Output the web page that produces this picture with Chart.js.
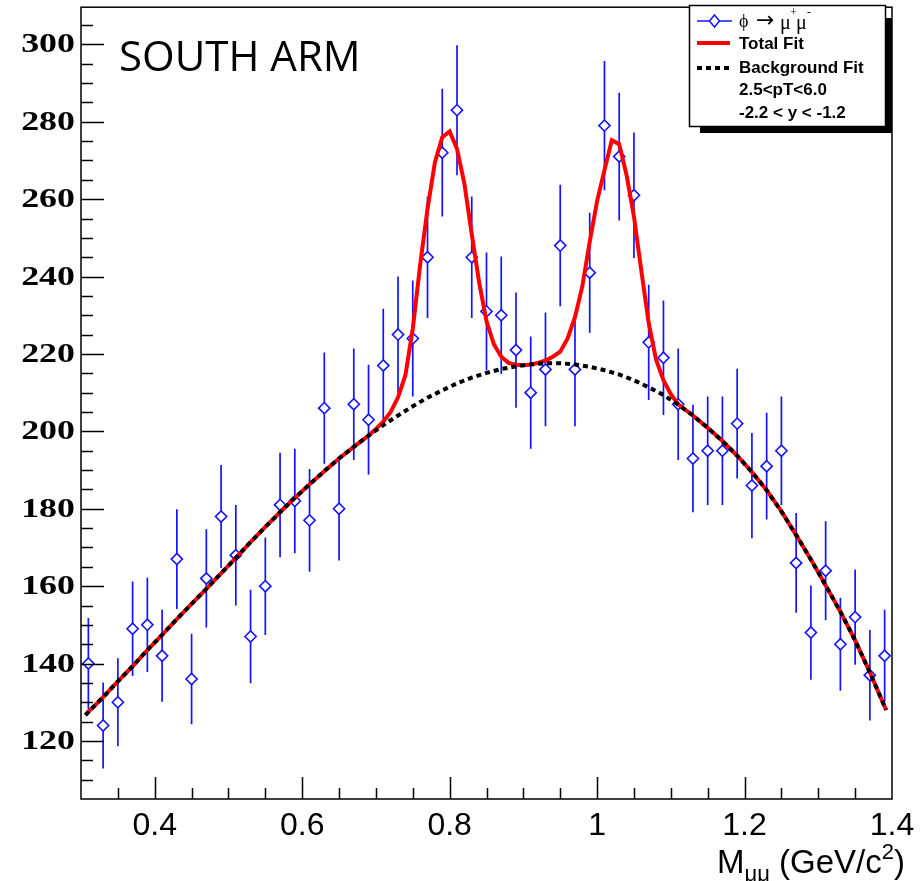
<!DOCTYPE html>
<html>
<head>
<meta charset="utf-8">
<script src="https://cdn.jsdelivr.net/npm/chart.js@4.4.1/dist/chart.umd.min.js"></script>
<style>
  html, body { margin: 0; padding: 0; background: #fff; }
  canvas { display: block; }
</style>
</head>
<body>
<canvas id="massChart" width="921" height="881"></canvas>
<script>
// bin centres (GeV/c^2)
const mass = [0.31,0.33,0.35,0.37,0.39,0.41,0.43,0.45,0.47,0.49,
  0.51,0.53,0.55,0.57,0.59,0.61,0.63,0.65,0.67,0.69,
  0.71,0.73,0.75,0.77,0.79,0.81,0.83,0.85,0.87,0.89,
  0.91,0.93,0.95,0.97,0.99,1.01,1.03,1.05,1.07,1.09,
  1.11,1.13,1.15,1.17,1.19,1.21,1.23,1.25,1.27,1.29,
  1.31,1.33,1.35,1.37,1.39];
const counts = [140,124,130,149,150,142,167,136,162,178,
  168,147,160,181,182,177,206,180,207,203,
  217,225,224,245,272,283,245,231,230,221,
  210,216,248,216,241,279,271,261,223,219,
  207,193,195,195,202,186,191,195,166,148,
  164,145,152,137,142];
const countErr = [11.8,11.1,11.4,12.2,12.2,11.9,12.9,11.7,12.7,13.3,
  13.0,12.1,12.6,13.5,13.5,13.3,14.4,13.4,14.4,14.2,
  14.7,15.0,15.0,15.7,16.5,16.8,15.7,15.2,15.2,14.9,
  14.5,14.7,15.7,14.7,15.5,16.7,16.5,16.2,14.9,14.8,
  14.4,13.9,14.0,14.0,14.2,13.6,13.8,14.0,12.9,12.2,
  12.8,12.0,12.3,11.7,11.9];

// background fit
const bgMass = [0.306, ...mass, 1.392];
const bgFit = [126.7,
  127.5,131.3,135.4,139.3,143.5,147.4,151.5,155.4,159.3,163.3,
  167.3,171.4,175.3,179.1,182.8,186.3,189.7,193.0,196.0,198.9,
  201.6,204.1,206.5,208.7,210.6,212.4,213.9,215.1,216.1,216.8,
  217.3,217.6,217.6,217.3,216.7,215.8,214.7,213.2,211.4,209.4,
  206.9,204.1,200.9,197.5,193.7,189.5,184.8,179.3,173.2,166.9,
  160.2,153.4,146.0,137.7,128.9,
  128.0];

// total fit
const totMass = [0.306,0.31,0.33,0.35,0.37,0.39,0.41,0.43,0.45,0.47,0.49,
  0.51,0.53,0.55,0.57,0.59,0.61,0.63,0.65,0.67,0.69,
  0.70,0.71,0.72,0.73,0.74,0.75,0.76,0.77,0.78,0.79,
  0.80,0.81,0.82,0.83,0.84,0.85,0.86,0.87,0.88,0.89,
  0.90,0.91,0.92,0.93,0.94,0.95,0.96,0.97,0.98,0.99,
  1.00,1.01,1.02,1.03,1.04,1.05,1.06,1.07,1.08,1.09,
  1.10,1.11,1.13,1.15,1.17,1.19,1.21,1.23,1.25,1.27,
  1.29,1.31,1.33,1.35,1.37,1.39,1.392];
const totFit = [126.7,127.5,131.3,135.4,139.3,143.5,147.4,151.5,155.4,159.3,163.3,
  167.3,171.4,175.3,179.1,182.8,186.3,189.7,193.0,196.0,198.9,
  200.6,202.5,205.0,208.8,214.5,226.5,243.0,257.5,269.5,276.0,
  277.5,273.0,264.0,251.0,238.5,228.5,222.5,219.3,217.7,217.2,
  217.1,217.3,217.7,218.3,219.3,220.6,224.0,229.5,237.5,249.0,
  259.5,267.5,275.2,274.2,266.2,255.5,241.5,228.0,218.5,213.2,
  209.6,207.0,204.1,200.9,197.5,193.7,189.5,184.8,179.3,173.2,
  166.9,160.2,153.4,146.0,137.7,128.9,128.0];

const xTicks = [0.4, 0.6, 0.8, 1.0, 1.2, 1.4];
const yTicks = [120, 140, 160, 180, 200, 220, 240, 260, 280, 300];

const BLUE = 'rgb(20,20,255)';
const RED = '#ff0000';

const pts = (xs, ys) => xs.map((v, i) => ({ x: v, y: ys[i] }));

// error bars, inward ROOT-style ticks, frame, labels and the legend box
const rootStyle = {
  id: 'rootStyle',
  beforeDatasetsDraw(chart) {
    const { ctx, chartArea: a, scales: { x, y } } = chart;
    ctx.save();
    ctx.beginPath();
    ctx.rect(a.left, a.top, a.width, a.height);
    ctx.clip();
    ctx.strokeStyle = BLUE;
    ctx.lineWidth = 1.7;
    mass.forEach((m, i) => {
      const px = x.getPixelForValue(m);
      ctx.beginPath();
      ctx.moveTo(px, y.getPixelForValue(counts[i] - countErr[i]));
      ctx.lineTo(px, y.getPixelForValue(counts[i] + countErr[i]));
      ctx.stroke();
    });
    ctx.restore();
  },
  afterDraw(chart) {
    const { ctx, chartArea: a, scales: { x, y } } = chart;
    ctx.save();
    ctx.strokeStyle = '#000';
    ctx.lineWidth = 1.5;

    // ticks pointing into the frame
    ctx.beginPath();
    for (let v = 110; v <= 305; v += 5) {
      const py = Math.round(y.getPixelForValue(v)) + 0.5;
      const len = v % 20 === 0 ? 23 : 12;
      ctx.moveTo(a.left, py);
      ctx.lineTo(a.left + len, py);
    }
    for (let k = 7; k <= 27; k++) {
      const px = Math.round(x.getPixelForValue(k * 0.05)) + 0.5;
      const len = k % 4 === 0 ? 22 : 11;
      ctx.moveTo(px, a.bottom);
      ctx.lineTo(px, a.bottom - len);
    }
    ctx.stroke();
    ctx.strokeRect(a.left, a.top, a.width, a.height);

    // y labels: wide bold serif
    ctx.fillStyle = '#000';
    ctx.font = "bold 27px 'Liberation Serif'";
    ctx.textAlign = 'right';
    ctx.textBaseline = 'middle';
    yTicks.forEach(v => {
      ctx.save();
      ctx.translate(75, y.getPixelForValue(v) + 1);
      ctx.scale(1.33, 1);
      ctx.fillText(String(v), 0, 0);
      ctx.restore();
    });
    ctx.textAlign = 'left';

    // arm label
    ctx.font = "42px 'Open Sans'";
    ctx.textBaseline = 'alphabetic';
    ctx.fillText('SOUTH ARM', 119, 71);

    // axis title: M_{μμ} (GeV/c^{2})
    const big = "33px 'Liberation Sans'";
    const small = "22px 'Liberation Sans'";
    const parts = [
      ['M', big, 0], ['μμ', small, 8], [' (GeV/c', big, 0], ['2', small, -14], [')', big, 0]
    ];
    let w = 0;
    parts.forEach(p => { ctx.font = p[1]; w += ctx.measureText(p[0]).width; });
    let tx = 905 - w;
    parts.forEach(p => {
      ctx.font = p[1];
      ctx.fillText(p[0], tx, 873 + p[2]);
      tx += ctx.measureText(p[0]).width;
    });

    // legend box with shadow
    ctx.fillStyle = '#000';
    ctx.fillRect(700, 18, 192, 115);
    ctx.fillStyle = '#fff';
    ctx.fillRect(689, 5, 197, 122);
    ctx.lineWidth = 1.5;
    ctx.strokeRect(689.5, 5.5, 196, 121);

    // row 1: data marker
    ctx.strokeStyle = BLUE;
    ctx.lineWidth = 1.5;
    ctx.beginPath();
    ctx.moveTo(697, 21); ctx.lineTo(732, 21);
    ctx.stroke();
    ctx.beginPath();
    ctx.moveTo(714.5, 15); ctx.lineTo(719.5, 21); ctx.lineTo(714.5, 27); ctx.lineTo(709.5, 21); ctx.closePath();
    ctx.fillStyle = '#fff';
    ctx.fill();
    ctx.stroke();
    ctx.fillStyle = '#000';
    ctx.textBaseline = 'middle';
    ctx.font = "18px 'Liberation Serif'";
    ctx.fillText('ϕ', 739, 22);
    ctx.font = "20px 'Liberation Serif'";
    ctx.fillText('μ', 780, 24);
    ctx.fillText('μ', 796, 24);
    ctx.font = "22px 'DejaVu Sans'";
    ctx.fillText('→', 756, 21);
    ctx.font = "12px 'Liberation Serif'";
    ctx.fillText('+', 790, 13);
    ctx.fillText('-', 807, 13);

    // row 2: total fit
    ctx.strokeStyle = RED;
    ctx.lineWidth = 4;
    ctx.beginPath();
    ctx.moveTo(697, 43); ctx.lineTo(730, 43);
    ctx.stroke();
    // row 3: background fit
    ctx.strokeStyle = '#000';
    ctx.setLineDash([5, 4]);
    ctx.beginPath();
    ctx.moveTo(697, 68); ctx.lineTo(730, 68);
    ctx.stroke();
    ctx.setLineDash([]);

    ctx.font = "bold 17px 'Liberation Sans'";
    ctx.fillText('Total Fit', 739, 44);
    ctx.fillText('Background Fit', 739, 68);
    ctx.fillText('2.5<pT<6.0', 739, 90);
    ctx.fillText('-2.2 < y < -1.2', 739, 113);
    ctx.restore();
  }
};

const chart = new Chart(document.getElementById('massChart').getContext('2d'), {
  type: 'line',
  data: {
    datasets: [
      {
        label: 'phi -> mu+ mu-',
        data: pts(mass, counts),
        showLine: false,
        pointStyle: 'rectRot',
        pointRadius: 5.6,
        pointBorderWidth: 1.6,
        pointBorderColor: BLUE,
        pointBackgroundColor: '#fff',
        order: 2
      },
      {
        label: 'Total Fit',
        data: pts(totMass, totFit),
        borderColor: RED,
        borderWidth: 4,
        pointRadius: 0,
        tension: 0,
        fill: false,
        order: 1
      },
      {
        label: 'Background Fit',
        data: pts(bgMass, bgFit),
        borderColor: '#000',
        borderWidth: 4,
        borderDash: [5, 4],
        pointRadius: 0,
        tension: 0,
        fill: false,
        order: 0
      }
    ]
  },
  options: {
    responsive: false,
    animation: false,
    layout: { padding: { left: 0, top: 5, right: 29, bottom: 0 } },
    plugins: { legend: { display: false }, tooltip: { enabled: false } },
    scales: {
      x: {
        type: 'linear',
        min: 0.3,
        max: 1.4,
        grid: { display: false, drawTicks: false },
        border: { display: false },
        afterBuildTicks: s => { s.ticks = xTicks.map(v => ({ value: v })); },
        afterFit: s => { s.height = 82; s.paddingLeft = 0; s.paddingRight = 0; },
        ticks: {
          autoSkip: false,
          maxRotation: 0,
          padding: 8,
          color: '#000',
          font: { family: "'Liberation Sans'", size: 32 },
          callback: v => String(Math.round(v * 10) / 10)
        }
      },
      y: {
        min: 105,
        max: 309.6,
        grid: { display: false, drawTicks: false },
        border: { display: false },
        afterBuildTicks: s => { s.ticks = yTicks.map(v => ({ value: v })); },
        afterFit: s => { s.width = 81; s.paddingTop = 0; s.paddingBottom = 0; },
        ticks: { display: false }
      }
    }
  },
  plugins: [rootStyle]
});
</script>
</body>
</html>
